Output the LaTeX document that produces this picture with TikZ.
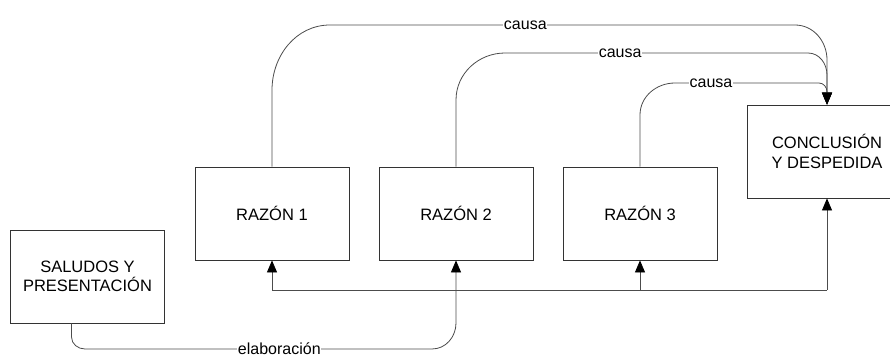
\documentclass[tikz,border=0pt]{standalone}
\usepackage{fontspec}
\setmainfont{Liberation Sans}
\usetikzlibrary{arrows.meta}

\tikzset{
  caja/.style={draw=black!80, line width=0.8pt, minimum width=154pt, minimum height=93pt,
    align=center, inner sep=0pt, font=\fontsize{16.5}{19.5}\selectfont},
  enlace/.style={draw=black!70, line width=0.8pt},
  flecha/.style={enlace, -{Triangle[width=10pt,length=12pt,color=black]}},
  rotulo/.style={fill=white, inner sep=0.5pt, font=\fontsize{16}{18}\selectfont},
}

\begin{document}
\begin{tikzpicture}[x=1pt, y=1pt]
	\useasboundingbox (0,0) rectangle (890,-358);

	% --- Boxes ---
	\node[caja] (salu) at (87.5,-276.5) {SALUDOS Y\\PRESENTACIÓN};
	\node[caja] (raz1) at (272,-213.5) {RAZÓN 1};
	\node[caja] (raz2) at (456,-213.5) {RAZÓN 2};
	\node[caja] (raz3) at (640,-213.5) {RAZÓN 3};
	\node[caja, minimum width=160pt] (concl) at (827,-151.5) {CONCLUSIÓN\\Y DESPEDIDA};

	% --- causa arcs (top) ---
	\draw[flecha] (raz1.north) -- (272,-90) to[out=90,in=180] (330,-25)
		-- node[rotulo, pos=0.42] {causa} (795,-25) to[out=0,in=90] (827,-60) -- (concl.north);
	\draw[flecha] (raz2.north) -- (456,-100) to[out=90,in=180] (505,-53)
		-- node[rotulo, pos=0.38] {causa} (808,-53) to[out=0,in=90] (827,-75) -- (concl.north);
	\draw[flecha] (raz3.north) -- (640,-115) to[out=90,in=180] (675,-83)
		-- node[rotulo, pos=0.25] {causa} (819,-83) to[out=0,in=90] (827,-92) -- (concl.north);

	% --- elaboración (bottom) ---
	\draw[flecha] ([xshift=-16pt]salu.south) -- (71.5,-337) to[out=-90,in=180] (85,-349)
		-- node[rotulo, pos=0.56] {elaboración} (432,-349) to[out=0,in=-90] (456,-323) -- (raz2.south);

	% --- joint line ---
	\coordinate (j1) at (raz1.south |- 0,-290);
	\coordinate (j3) at (raz3.south |- 0,-290);
	\coordinate (jc) at (concl.south |- 0,-290);
	\draw[enlace] (j1) -- (jc);
	\draw[flecha] (j1) -- (raz1.south);
	\draw[flecha] (j3) -- (raz3.south);
	\draw[flecha] (jc) -- (concl.south);
\end{tikzpicture}
\end{document}
